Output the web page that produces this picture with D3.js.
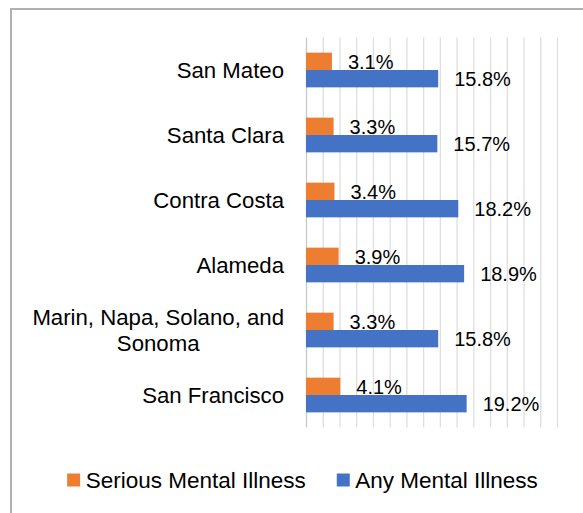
<!DOCTYPE html>
<html lang="en">
<head>
    <meta charset="UTF-8">
    <title>Mental Illness Prevalence by County</title>
    <script src="https://d3js.org/d3.v7.min.js"></script>
    <style>
        body, html {
            margin: 0;
            padding: 0;
            background-color: #fff;
            font-family: 'Liberation Sans', Arial, sans-serif;
        }
        svg {
            display: block;
        }
    </style>
</head>
<body>
    <svg id="chart"></svg>

    <script>
        const categories = ['San Mateo', 'Santa Clara', 'Contra Costa', 'Alameda', 'Marin, Napa, Solano, and Sonoma', 'San Francisco'];
        const seriousValues = [3.1, 3.3, 3.4, 3.9, 3.3, 4.1];
        const anyValues = [15.8, 15.7, 18.2, 18.9, 15.8, 19.2];
        const seriesNames = ['Serious Mental Illness', 'Any Mental Illness'];
        const seriesColors = ['#ED7D31', '#4472C4'];
        const gridTicks = d3.range(0, 31, 2); // hidden axis, gridline every 2%

        const width = 583, height = 513;
        const plot = { left: 306, right: 557, top: 37.5, bottom: 427.5 };

        const svg = d3.select('#chart')
            .attr('width', width)
            .attr('height', height);

        // chart frame (extends past the right and bottom edge in the original)
        svg.append('rect')
            .attr('x', 11)
            .attr('y', 9)
            .attr('width', 700)
            .attr('height', 700)
            .attr('fill', 'none')
            .attr('stroke', '#b0b0b0')
            .attr('stroke-width', 2);

        const x = d3.scaleLinear()
            .domain([0, 30])
            .range([plot.left, plot.right]);

        const y = d3.scaleBand()
            .domain(categories)
            .range([plot.top, plot.bottom])
            .paddingInner(0.466)
            .paddingOuter(0.233);

        const ySeries = d3.scaleBand()
            .domain(seriesNames)
            .range([0, y.bandwidth()]);

        // gridlines
        svg.append('g')
            .selectAll('line')
            .data(gridTicks)
            .join('line')
            .attr('x1', d => x(d) + 0.5)
            .attr('x2', d => x(d) + 0.5)
            .attr('y1', plot.top)
            .attr('y2', plot.bottom)
            .attr('stroke', d => d === 0 ? '#c8c8c8' : '#dedede')
            .attr('stroke-width', 1.3);

        const rows = categories.map((c, i) => ({
            category: c,
            values: [
                { series: seriesNames[0], value: seriousValues[i], color: seriesColors[0] },
                { series: seriesNames[1], value: anyValues[i], color: seriesColors[1] }
            ]
        }));

        const groups = svg.append('g')
            .selectAll('g')
            .data(rows)
            .join('g')
            .attr('transform', d => `translate(0,${y(d.category)})`);

        groups.selectAll('rect')
            .data(d => d.values)
            .join('rect')
            .attr('x', x(0))
            .attr('y', d => ySeries(d.series))
            .attr('width', d => x(d.value) - x(0))
            .attr('height', ySeries.bandwidth())
            .attr('fill', d => d.color);

        groups.selectAll('text.value')
            .data(d => d.values)
            .join('text')
            .attr('class', 'value')
            .attr('x', d => x(d.value) + 16)
            .attr('y', d => ySeries(d.series) + ySeries.bandwidth() / 2)
            .attr('dy', '0.36em')
            .attr('font-size', 20)
            .attr('fill', '#000')
            .text(d => d.value.toFixed(1) + '%');

        // category labels, long names wrapped onto two centered lines
        const wrapped = {
            'Marin, Napa, Solano, and Sonoma': ['Marin, Napa, Solano, and', 'Sonoma']
        };
        const labelRight = plot.left - 22;
        const lineHeight = 26.5;

        const labels = svg.append('g')
            .selectAll('text')
            .data(categories)
            .join('text')
            .attr('font-size', 22.2)
            .attr('fill', '#000')
            .attr('text-anchor', 'middle');

        labels.each(function(d) {
            const lines = wrapped[d] || [d];
            const t = d3.select(this);
            const cy = y(d) + y.bandwidth() / 2;
            lines.forEach((line, i) => {
                t.append('tspan')
                    .attr('y', cy + (i - (lines.length - 1) / 2) * lineHeight)
                    .attr('dy', '0.36em')
                    .text(line);
            });
            // right-align the whole block, center its lines
            const w = d3.max(t.selectAll('tspan').nodes(), n => n.getComputedTextLength());
            t.selectAll('tspan').attr('x', labelRight - w / 2);
        });

        // legend
        const legend = svg.append('g');
        const items = legend.selectAll('g')
            .data(seriesNames)
            .join('g');
        items.append('rect')
            .attr('width', 13)
            .attr('height', 13)
            .attr('y', -6.5)
            .attr('fill', (d, i) => seriesColors[i]);
        items.append('text')
            .attr('x', 18.5)
            .attr('dy', '0.36em')
            .attr('font-size', 22.5)
            .attr('fill', '#000')
            .text(d => d);

        let offset = 0;
        const gap = 31;
        items.each(function() {
            const g = d3.select(this);
            g.attr('transform', `translate(${offset},0)`);
            offset += g.node().getBBox().width + gap;
        });
        const legendWidth = offset - gap;
        legend.attr('transform', `translate(${302.5 - legendWidth / 2},480)`);
    </script>
</body>
</html>
